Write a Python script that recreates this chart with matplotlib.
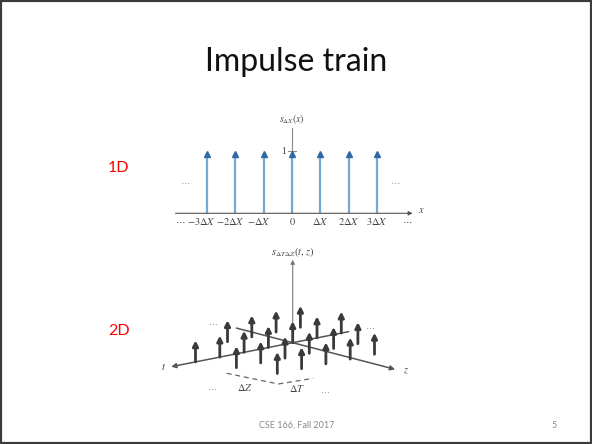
import matplotlib

matplotlib.use("Agg")
import matplotlib.pyplot as plt
import numpy as np
from matplotlib.patches import Rectangle

plt.rcParams["mathtext.fontset"] = "stix"

W, H = 592, 444

# 1D impulse train
X_TICKS = [-3, -2, -1, 0, 1, 2, 3]
X_LABELS = [r"$-3\Delta X$", r"$-2\Delta X$", r"$-\Delta X$", r"$0$",
            r"$\Delta X$", r"$2\Delta X$", r"$3\Delta X$"]
IMPULSE_1D = [1, 1, 1, 1, 1, 1, 1]

# 2D impulse train (lattice indices along t and the second grid direction)
T_IDX = [-2, -1, 0, 1, 2, 3, 4, -2, -1, 0, 1, 2, 3, -2, -1, 0, 1, 2, -1, 0, 1, 2]
Z_IDX = [0] * 7 + [1] * 6 + [2] * 5 + [-1] * 4
IMPULSE_2D = [1] * 22

BLUE_SHAFT = "#74a9d6"
BLUE_HEAD = "#2f6aa6"
AX_GRAY = "#555555"
TXT_GRAY = "#444444"


def px_axes(fig, x0, y0, x1, y1):
    """Axes placed by pixel box (top-left origin)."""
    ax = fig.add_axes([x0 / W, 1 - y1 / H, (x1 - x0) / W, (y1 - y0) / H])
    ax.set_axis_off()
    return ax


fig = plt.figure(figsize=(W / 100, H / 100), dpi=100)
fig.patches.append(Rectangle((0, 0), 1, 1, transform=fig.transFigure,
                             fill=False, lw=3, ec="#3a3a3a"))
fig.text(0.5, 1 - 62 / H, "Impulse train", ha="center", va="center",
         fontsize=23, family="Lato", color="#111111")
fig.text(108 / W, 1 - 168 / H, "1D", ha="left", va="center", fontsize=11.5,
         family="Lato", color="#ff0000")
fig.text(108 / W, 1 - 331 / H, "2D", ha="left", va="center", fontsize=11.5,
         family="Lato", color="#ff0000")
fig.text(297 / W, 1 - 425 / H, "CSE 166, Fall 2017", ha="center", va="center",
         fontsize=6.5, family="Lato", color="#8a8a8a")
fig.text(554 / W, 1 - 425 / H, "5", ha="center", va="center",
         fontsize=6.5, family="Lato", color="#8a8a8a")

# ---- 1D: one x unit = 28.4 px, one y unit = 62 px, origin at (292, 213.3)
ux, uy, ox, oy = 28.4, 62.0, 292.0, 213.3
xl, xr, yb, yt = -4.3, 4.6, -0.3, 1.6
ax1 = px_axes(fig, ox + xl * ux, oy - yt * uy, ox + xr * ux, oy - yb * uy)
ax1.set_xlim(xl, xr)
ax1.set_ylim(yb, yt)
ax1.annotate("", xy=(4.25, 0), xytext=(-4.1, 0),
             arrowprops=dict(arrowstyle="-|>", lw=0.8, color=AX_GRAY,
                             mutation_scale=6, shrinkA=0, shrinkB=0))
ax1.plot([0, 0], [0, 1.38], color="#888888", lw=0.8)
ax1.plot([-0.13, 0.13], [1, 1], color="#888888", lw=0.8)
ax1.text(-0.2, 1.0, "1", ha="right", va="center", fontsize=7, color=TXT_GRAY,
         family="Liberation Serif")
ax1.text(0, 1.52, r"$s_{\Delta X}(x)$", ha="center", va="center", fontsize=7,
         color=TXT_GRAY)
ax1.vlines(X_TICKS, 0, np.array(IMPULSE_1D) - 0.06, color=BLUE_SHAFT, lw=1.6)
ax1.plot(X_TICKS, np.array(IMPULSE_1D) - 0.04, ls="none", marker="^", ms=4.5,
         color=BLUE_HEAD)
for xv, lab in zip(X_TICKS, X_LABELS):
    shift = -0.18 if xv < 0 else 0.0
    ax1.text(xv + shift, -0.13, lab, ha="center", va="center", fontsize=7.5,
             color=TXT_GRAY)
ax1.text(-3.95, -0.13, "$\\cdots$", ha="center", va="center", fontsize=7.5,
         color=TXT_GRAY)
ax1.text(4.05, -0.13, "$\\cdots$", ha="center", va="center", fontsize=7.5,
         color=TXT_GRAY)
ax1.text(4.45, 0.05, "$x$", ha="left", va="center", fontsize=7.5, color=TXT_GRAY)
ax1.text(-3.75, 0.5, "$\\cdots$", ha="center", va="center", fontsize=7.5,
         color="#999999")
ax1.text(3.65, 0.5, "$\\cdots$", ha="center", va="center", fontsize=7.5,
         color="#999999")

# ---- 2D: oblique projection, data units are pixels about origin (292.7, 342.7)
o2x, o2y = 292.7, 342.7
ax2 = px_axes(fig, 150, 240, 432, 400)
ax2.set_xlim(150 - o2x, 432 - o2x)
ax2.set_ylim(o2y - 400, o2y - 240)
step_t = np.array([-24.3, -4.8])
step_g = np.array([16.6, -10.6])
dir_z = np.array([25.6, -6.65])
h_unit = 21.5


def proj(i, j):
    return i * step_t + j * step_g


arrow_ax = dict(arrowstyle="-|>", lw=1.1, color="#555555", mutation_scale=7,
                shrinkA=0, shrinkB=0)
t0, t1 = proj(-2.3, 0), proj(5.0, 0)
ax2.annotate("", xy=t1, xytext=t0, arrowprops=arrow_ax)
z0, z1 = -2.2 * dir_z, 4.0 * dir_z
ax2.annotate("", xy=z1, xytext=z0, arrowprops=arrow_ax)
ax2.annotate("", xy=(0, 83), xytext=(0, 0),
             arrowprops=dict(arrowstyle="-|>", lw=0.8, color="#777777",
                             mutation_scale=6, shrinkA=0, shrinkB=0))
ax2.text(0, 91, r"$s_{\Delta T \Delta Z}(t,\, z)$", ha="center", va="center",
         fontsize=7.5, color=TXT_GRAY)
ax2.text(t1[0] - 5, t1[1], "$t$", ha="right", va="center", fontsize=7.5,
         color=TXT_GRAY)
ax2.text(z1[0] + 8, z1[1] - 2, "$z$", ha="left", va="center", fontsize=7.5,
         color=TXT_GRAY)

# dashed spacing guides
corner = np.array([-14.4, -41.3])
ax2.plot([corner[0] - 51.6, corner[0]], [corner[1] + 10.7, corner[1]],
         ls=(0, (4, 3)), lw=0.9, color="#666666")
ax2.plot([corner[0], corner[0] + 35], [corner[1], corner[1] + 5.7],
         ls=(0, (4, 3)), lw=0.9, color="#666666")
ax2.text(-47.7, -45, r"$\Delta Z$", ha="center", va="center", fontsize=7.5,
         color=TXT_GRAY)
ax2.text(4, -46, r"$\Delta T$", ha="center", va="center", fontsize=7.5,
         color=TXT_GRAY)
for dx, dy in [(-79.4, 20), (77.3, 16), (-81, -45), (32.3, -48)]:
    ax2.text(dx, dy, "$\\cdots$", ha="center", va="center", fontsize=7,
             color="#999999")

bases = [proj(i, j) for i, j in zip(T_IDX, Z_IDX)]
order = np.argsort([-b[1] for b in bases])
for k in order:
    b = bases[k]
    top = b + np.array([0, IMPULSE_2D[k] * h_unit])
    ax2.annotate("", xy=top, xytext=b,
                 arrowprops=dict(arrowstyle="-|>", lw=2.0, color="#3a3a3a",
                                 mutation_scale=8, shrinkA=0, shrinkB=0))

fig.savefig("out.png", dpi=100)
